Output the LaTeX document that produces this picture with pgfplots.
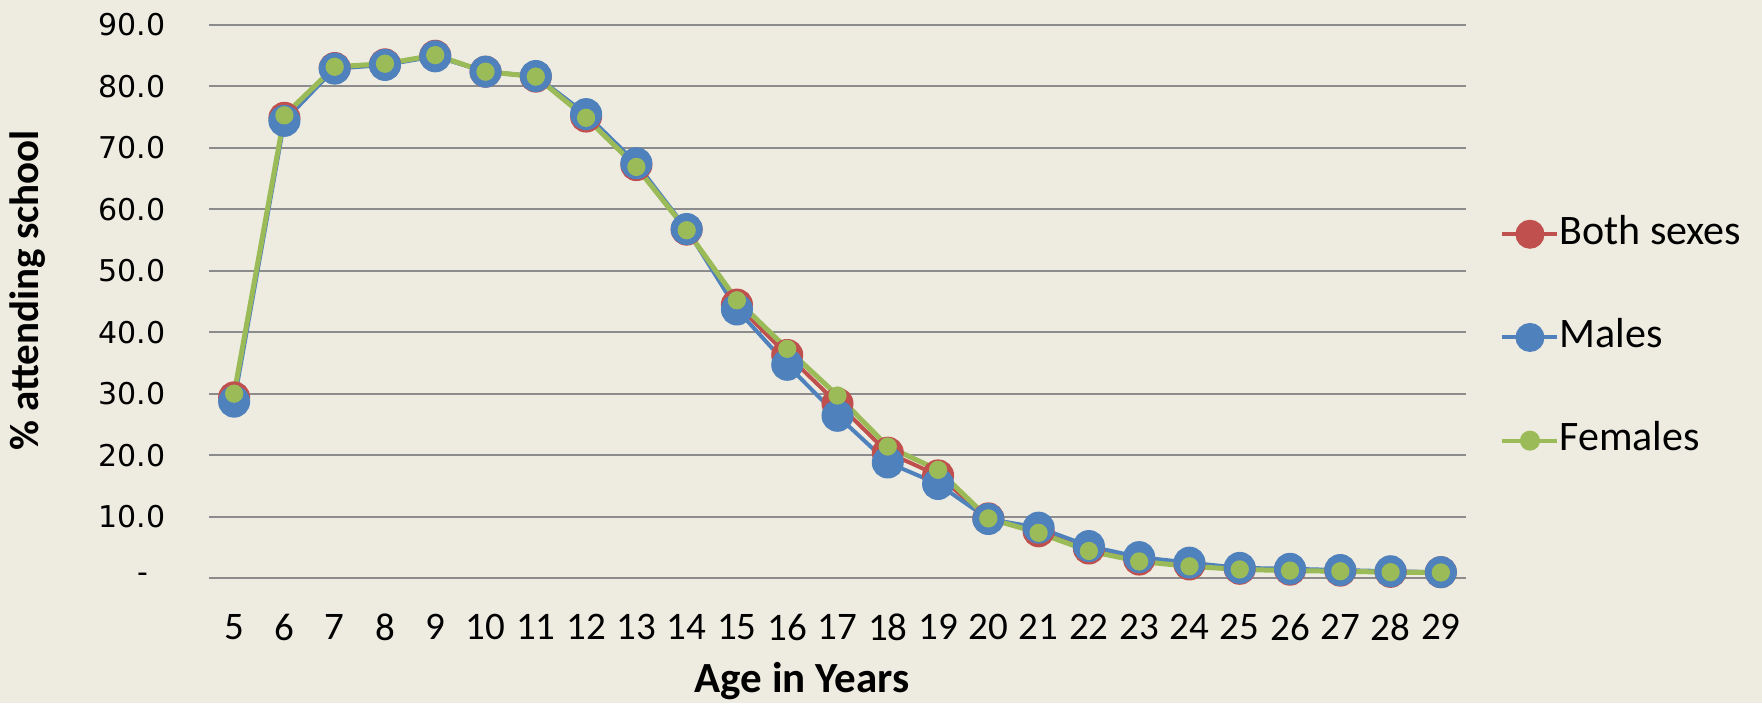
\documentclass[border=0pt]{standalone}
\usepackage{fontspec}
\setmainfont{Carlito}
\newfontfamily\dejavu{DejaVu Sans}
\usepackage{pgfplots}
\pgfplotsset{compat=1.18}
\definecolor{bgc}{HTML}{EEECE1}
\definecolor{gridc}{HTML}{8C8C8C}
\definecolor{cboth}{HTML}{C0504D}
\definecolor{cmale}{HTML}{4F81BD}
\definecolor{cfem}{HTML}{9BBB59}
\begin{document}
\begin{tikzpicture}
\fill[bgc] (-104.5pt,-62.5pt) rectangle (776.5pt,289pt);
\useasboundingbox (-104.5pt,-62.5pt) rectangle (776.5pt,289pt);
\begin{axis}[
  at={(0pt,0pt)}, anchor=south west,
  scale only axis, width=628.5pt, height=276.5pt,
  xmin=4.5, xmax=29.5, ymin=0, ymax=90,
  clip=false,
  axis line style={draw=none},
  major tick length=0pt,
  xtick={5,...,29},
  ytick={0,10,...,90},
  yticklabels={-\rule{8.5pt}{0pt},10.0,20.0,30.0,40.0,50.0,60.0,70.0,80.0,90.0},
  /pgf/number format/assume math mode=true,
  ymajorgrids,
  grid style={color=gridc, line width=1pt},
  yticklabel style={font=\dejavu\fontsize{15}{18}\selectfont, anchor=east, inner sep=0pt, xshift=-21.5pt},
  xticklabel style={font=\fontsize{19.5}{22}\selectfont, anchor=center, inner sep=0pt, yshift=-24.5pt},
  xlabel={Age in Years},
  ylabel={\% attending school},
  xlabel style={font=\bfseries\fontsize{21.5}{24}\selectfont, at={([yshift=-57pt]axis description cs:0.4718,0)}, anchor=base},
  ylabel style={font=\bfseries\fontsize{20.5}{24}\selectfont, at={([xshift=-85pt]axis description cs:0,0.52)}, anchor=base},
  legend style={at={(axis description cs:1.0271,0.435)}, anchor=west, draw=none, fill=none, inner sep=0pt,
    row sep=33.6pt, font=\fontsize{21}{24}\selectfont,
    nodes={inner sep=0pt, text height=14pt, text depth=4pt}},
  legend cell align=left,
]
\addplot[color=cboth, line width=2pt, mark=*, mark size=7pt, mark options={draw=none, fill=cboth},
  legend image code/.code={\draw[cboth, line width=2pt] (0pt,0pt) -- (27.5pt,0pt);
    \fill[cboth] (13.75pt,0pt) circle (6.25pt);}]
coordinates {(5,29.4) (6,74.9) (7,83.0) (8,83.6) (9,85.0) (10,82.4) (11,81.6) (12,75.1) (13,67.2) (14,56.7)
 (15,44.5) (16,36.3) (17,28.4) (18,20.4) (19,16.7) (20,9.7) (21,7.6) (22,4.8) (23,3.0) (24,2.2)
 (25,1.5) (26,1.35) (27,1.2) (28,1.0) (29,0.95)};
\addlegendentry{Both sexes}
\addplot[color=cmale, line width=2pt, mark=*, mark size=7pt, mark options={draw=none, fill=cmale},
  legend image code/.code={\draw[cmale, line width=2pt] (0pt,0pt) -- (27.5pt,0pt);
    \fill[cmale] (13.75pt,0pt) circle (6.25pt);}]
coordinates {(5,28.7) (6,74.4) (7,82.9) (8,83.5) (9,84.9) (10,82.4) (11,81.7) (12,75.5) (13,67.5) (14,56.8)
 (15,43.7) (16,34.7) (17,26.4) (18,18.8) (19,15.3) (20,9.6) (21,8.2) (22,5.2) (23,3.4) (24,2.5)
 (25,1.65) (26,1.5) (27,1.3) (28,1.1) (29,0.95)};
\addlegendentry{Males}
\addplot[color=cfem, line width=2.5pt, mark=*, mark size=3.3pt, mark options={draw=none, fill=cfem},
  legend image code/.code={\draw[cfem, line width=2pt] (0pt,0pt) -- (27.5pt,0pt);
    \fill[cfem] (13.75pt,0pt) circle (3.75pt);}]
coordinates {(5,30.0) (6,75.3) (7,83.2) (8,83.7) (9,85.1) (10,82.4) (11,81.6) (12,74.9) (13,66.9) (14,56.6)
 (15,45.2) (16,37.3) (17,29.7) (18,21.4) (19,17.6) (20,9.7) (21,7.35) (22,4.4) (23,2.7) (24,1.9)
 (25,1.4) (26,1.2) (27,1.1) (28,0.95) (29,0.9)};
\addlegendentry{Females}
\end{axis}
\end{tikzpicture}
\end{document}
